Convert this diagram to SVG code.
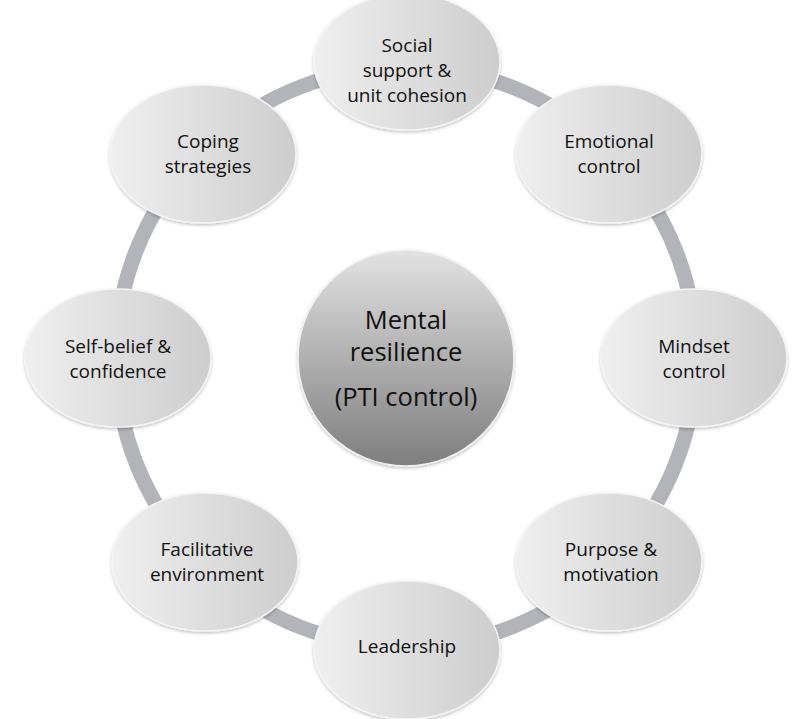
<svg xmlns="http://www.w3.org/2000/svg" width="812" height="719" viewBox="0 0 812 719">
<style>
.node{fill:url(#ng);stroke:#f4f4f4;stroke-width:1.5;filter:url(#sh)}
.t{font-family:"Open Sans","Liberation Sans",sans-serif;font-size:19px;fill:#111;text-anchor:middle}
.c{font-family:"Open Sans","Liberation Sans",sans-serif;font-size:25.5px;fill:#111;text-anchor:middle}
</style>
<defs>
<linearGradient id="ng" x1="0" y1="0" x2="1" y2="0">
<stop offset="0" stop-color="#efefef"/>
<stop offset="1" stop-color="#cdcdcd"/>
</linearGradient>
<linearGradient id="cg" x1="0" y1="0" x2="0" y2="1">
<stop offset="0" stop-color="#e2e2e2"/>
<stop offset="0.5" stop-color="#b0b0b0"/>
<stop offset="1" stop-color="#7e7e7e"/>
</linearGradient>
<filter id="sh" x="-10%" y="-10%" width="120%" height="125%">
<feDropShadow dx="0" dy="1.5" stdDeviation="1.5" flood-color="#000" flood-opacity="0.25"/>
</filter>
</defs>
<rect width="812" height="719" fill="#fff"/>
<g id="connectors">
<circle cx="406" cy="357" r="290" fill="none" stroke="#b2b4ba" stroke-width="15"/>
</g>
<g id="center">
<circle cx="406" cy="358" r="108" fill="url(#cg)" stroke="#f2f2f2" stroke-width="1.5" filter="url(#sh)"/>
<text class="c" x="406" y="329">Mental</text>
<text class="c" x="406" y="361">resilience</text>
<text class="c" x="406" y="406">(PTI control)</text>
</g>
<g id="social">
<ellipse class="node" cx="407" cy="62" rx="93" ry="68"/>
<text class="t" x="407" y="52">Social</text>
<text class="t" x="407" y="77">support &amp;</text>
<text class="t" x="407" y="102">unit cohesion</text>
</g>
<g id="emotional">
<ellipse class="node" cx="609" cy="154" rx="93" ry="69"/>
<text class="t" x="609" y="148">Emotional</text>
<text class="t" x="609" y="173">control</text>
</g>
<g id="mindset">
<ellipse class="node" cx="694" cy="358" rx="93" ry="69"/>
<text class="t" x="694" y="353">Mindset</text>
<text class="t" x="694" y="378">control</text>
</g>
<g id="purpose">
<ellipse class="node" cx="609" cy="562" rx="93" ry="69"/>
<text class="t" x="611" y="556">Purpose &amp;</text>
<text class="t" x="611" y="581">motivation</text>
</g>
<g id="leadership">
<ellipse class="node" cx="407" cy="650" rx="93" ry="69"/>
<text class="t" x="407" y="653">Leadership</text>
</g>
<g id="facilitative">
<ellipse class="node" cx="205" cy="562" rx="93" ry="69"/>
<text class="t" x="207" y="556">Facilitative</text>
<text class="t" x="207" y="581">environment</text>
</g>
<g id="selfbelief">
<ellipse class="node" cx="118" cy="358" rx="93" ry="69"/>
<text class="t" x="118" y="353">Self-belief &amp;</text>
<text class="t" x="118" y="378">confidence</text>
</g>
<g id="coping">
<ellipse class="node" cx="203" cy="154" rx="93" ry="69"/>
<text class="t" x="208" y="148">Coping</text>
<text class="t" x="208" y="173">strategies</text>
</g>
</svg>
